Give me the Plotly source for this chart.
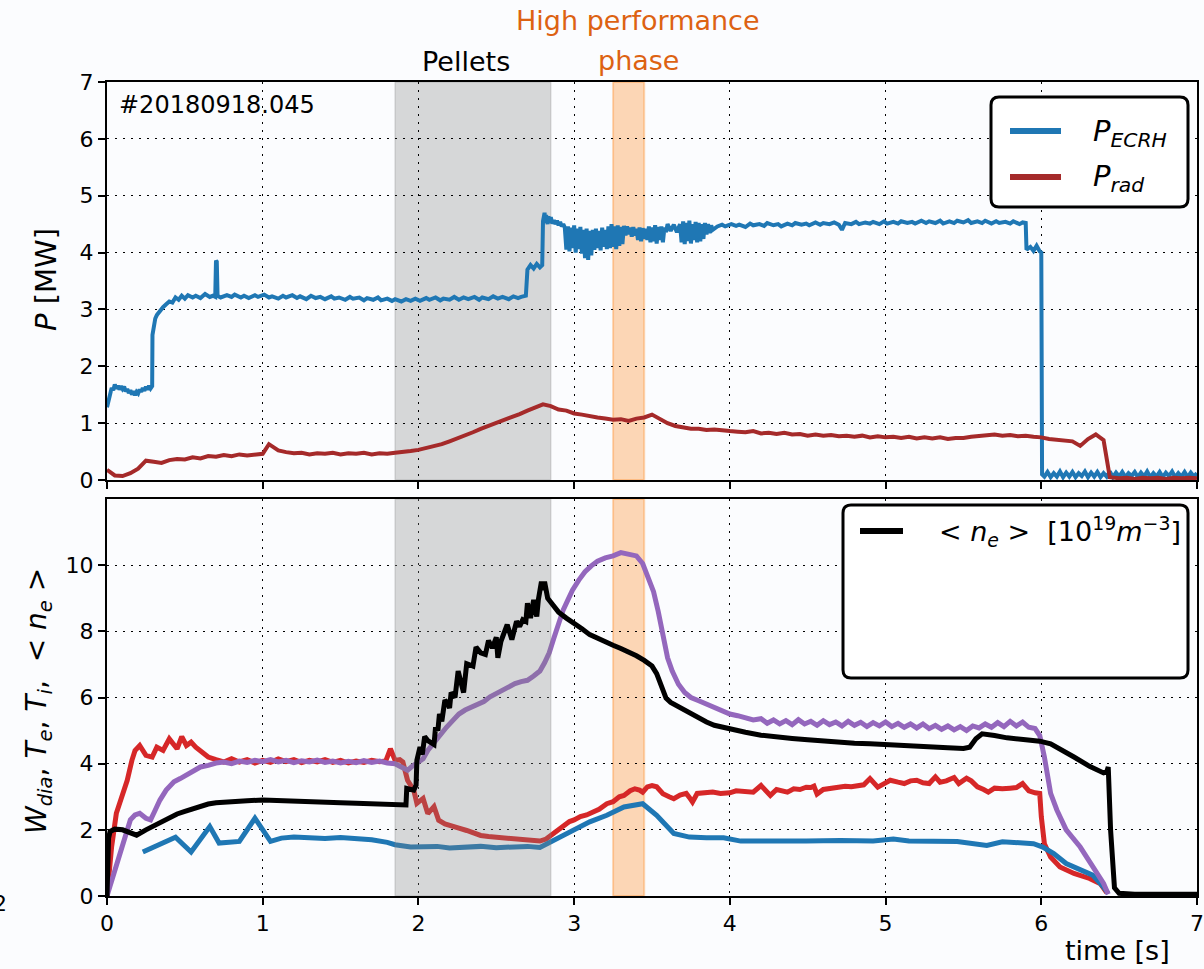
import plotly.graph_objects as go

# ---------------- data ----------------
# heating power P_ECRH [MW] : (time [s], value)
P_ECRH = [
    (0.00, 1.28), (0.01, 1.42), (0.02, 1.55), (0.03, 1.62), (0.04, 1.58), (0.05, 1.68), (0.06, 1.61),
    (0.07, 1.66), (0.08, 1.59), (0.09, 1.65), (0.10, 1.60), (0.11, 1.64), (0.12, 1.56), (0.13, 1.60),
    (0.14, 1.53), (0.15, 1.58), (0.16, 1.50), (0.17, 1.56), (0.18, 1.49), (0.19, 1.55), (0.20, 1.52),
    (0.21, 1.59), (0.22, 1.55), (0.23, 1.62), (0.24, 1.57), (0.25, 1.64), (0.26, 1.59), (0.27, 1.66),
    (0.28, 1.61), (0.29, 1.65), (0.292, 2.55), (0.30, 2.74), (0.31, 2.84), (0.32, 2.90), (0.34, 2.98),
    (0.36, 3.04), (0.38, 3.09), (0.40, 3.14), (0.42, 3.12), (0.44, 3.21), (0.46, 3.17), (0.48, 3.24),
    (0.50, 3.19), (0.52, 3.25), (0.55, 3.21), (0.57, 3.24), (0.60, 3.20), (0.63, 3.27), (0.66, 3.22),
    (0.68, 3.24), (0.695, 3.22), (0.70, 3.86), (0.705, 3.84), (0.71, 3.24), (0.73, 3.21), (0.77, 3.25),
    (0.80, 3.22), (0.82, 3.26), (0.86, 3.21), (0.88, 3.24), (0.91, 3.20), (0.95, 3.25), (0.97, 3.22),
    (1.01, 3.26), (1.04, 3.21), (1.06, 3.23), (1.10, 3.19), (1.13, 3.24), (1.15, 3.21), (1.19, 3.25),
    (1.22, 3.20), (1.24, 3.23), (1.28, 3.18), (1.31, 3.24), (1.34, 3.20), (1.37, 3.22), (1.40, 3.18),
    (1.44, 3.23), (1.46, 3.19), (1.49, 3.21), (1.53, 3.17), (1.56, 3.22), (1.58, 3.19), (1.62, 3.21),
    (1.65, 3.16), (1.67, 3.20), (1.71, 3.17), (1.74, 3.21), (1.76, 3.16), (1.80, 3.19), (1.83, 3.15),
    (1.85, 3.18), (1.89, 3.14), (1.92, 3.18), (1.95, 3.15), (1.98, 3.19), (2.01, 3.15), (2.05, 3.20),
    (2.07, 3.17), (2.11, 3.21), (2.14, 3.16), (2.16, 3.19), (2.20, 3.17), (2.23, 3.22), (2.26, 3.17),
    (2.29, 3.21), (2.32, 3.18), (2.36, 3.22), (2.39, 3.17), (2.41, 3.21), (2.45, 3.18), (2.48, 3.23),
    (2.51, 3.19), (2.54, 3.22), (2.58, 3.18), (2.61, 3.23), (2.64, 3.20), (2.66, 3.22), (2.69, 3.24),
    (2.70, 3.70), (2.72, 3.78), (2.74, 3.72), (2.76, 3.80), (2.78, 3.74), (2.795, 3.78), (2.80, 4.55),
    (2.81, 4.70), (2.815, 4.52), (2.82, 4.66), (2.83, 4.50), (2.835, 4.64), (2.84, 4.53), (2.85, 4.62),
    (2.86, 4.51), (2.87, 4.57), (2.88, 4.50), (2.89, 4.56), (2.90, 4.48), (2.91, 4.54), (2.92, 4.46),
    (2.93, 4.50), (2.94, 4.44),
    (2.95, 4.05), (2.96, 4.46), (2.97, 4.02), (2.98, 4.44), (2.99, 4.08), (3.00, 4.48), (3.01, 4.00),
    (3.02, 4.42), (3.03, 4.06), (3.04, 4.45), (3.05, 3.98), (3.06, 4.40), (3.07, 3.90), (3.08, 4.42),
    (3.09, 3.87), (3.10, 4.38), (3.11, 3.95), (3.12, 4.40), (3.13, 4.05), (3.14, 4.42), (3.15, 4.08),
    (3.16, 4.38), (3.17, 4.04), (3.18, 4.44), (3.19, 4.10), (3.20, 4.40), (3.21, 4.06), (3.22, 4.46),
    (3.23, 4.08), (3.24, 4.50), (3.25, 4.10), (3.26, 4.46), (3.27, 4.06), (3.28, 4.48), (3.29, 4.12),
    (3.30, 4.45), (3.31, 4.15), (3.32, 4.47), (3.33, 4.30), (3.34, 4.46), (3.35, 4.32), (3.36, 4.44),
    (3.37, 4.28), (3.38, 4.45), (3.39, 4.30), (3.40, 4.42), (3.41, 4.22), (3.42, 4.44), (3.43, 4.20),
    (3.44, 4.43), (3.45, 4.24), (3.46, 4.42), (3.47, 4.22), (3.48, 4.46), (3.49, 4.18), (3.50, 4.44),
    (3.51, 4.20), (3.52, 4.48), (3.53, 4.16), (3.54, 4.45), (3.55, 4.22), (3.56, 4.46), (3.57, 4.18),
    (3.58, 4.44), (3.59, 4.36), (3.60, 4.50), (3.62, 4.38), (3.64, 4.49), (3.66, 4.36), (3.68, 4.50),
    (3.69, 4.18), (3.70, 4.55), (3.71, 4.15), (3.72, 4.52), (3.73, 4.20), (3.74, 4.56), (3.75, 4.16),
    (3.76, 4.50), (3.77, 4.22), (3.78, 4.54), (3.79, 4.18), (3.80, 4.52), (3.81, 4.20), (3.82, 4.50),
    (3.83, 4.24), (3.84, 4.52), (3.85, 4.32), (3.86, 4.50), (3.87, 4.34), (3.88, 4.48), (3.89, 4.40),
    (3.92, 4.46), (3.95, 4.49), (3.97, 4.46), (4.01, 4.50), (4.04, 4.47), (4.06, 4.49), (4.10, 4.45),
    (4.13, 4.51), (4.15, 4.48), (4.19, 4.50), (4.22, 4.47), (4.24, 4.52), (4.28, 4.48), (4.31, 4.50),
    (4.33, 4.46), (4.37, 4.51), (4.40, 4.48), (4.42, 4.52), (4.46, 4.49), (4.49, 4.51), (4.51, 4.48),
    (4.55, 4.53), (4.58, 4.49), (4.60, 4.52), (4.64, 4.50), (4.67, 4.53), (4.70, 4.49), (4.72, 4.40),
    (4.74, 4.52), (4.78, 4.50), (4.81, 4.54), (4.83, 4.50), (4.87, 4.53), (4.90, 4.51), (4.92, 4.54),
    (4.96, 4.50), (4.99, 4.55), (5.01, 4.51), (5.05, 4.54), (5.08, 4.51), (5.10, 4.55), (5.14, 4.52),
    (5.17, 4.54), (5.19, 4.51), (5.23, 4.56), (5.26, 4.52), (5.28, 4.55), (5.32, 4.52), (5.35, 4.56),
    (5.37, 4.51), (5.41, 4.55), (5.44, 4.52), (5.46, 4.56), (5.50, 4.53), (5.53, 4.57), (5.55, 4.52),
    (5.59, 4.55), (5.62, 4.52), (5.64, 4.56), (5.68, 4.51), (5.71, 4.55), (5.73, 4.52), (5.77, 4.54),
    (5.80, 4.51), (5.82, 4.55), (5.86, 4.50), (5.88, 4.53), (5.90, 4.52), (5.905, 4.05), (5.93, 4.10),
    (5.95, 4.03), (5.97, 4.12), (5.99, 4.02), (6.00, 4.00), (6.005, 0.10), (6.02, 0.06), (6.04, 0.14),
    (6.06, 0.05), (6.08, 0.12), (6.10, 0.06), (6.12, 0.15), (6.14, 0.05), (6.16, 0.13), (6.18, 0.06),
    (6.20, 0.14), (6.22, 0.05), (6.24, 0.12), (6.26, 0.07), (6.28, 0.15), (6.30, 0.05), (6.32, 0.13),
    (6.34, 0.06), (6.36, 0.14), (6.38, 0.05), (6.40, 0.12), (6.42, 0.06), (6.44, 0.15), (6.46, 0.05),
    (6.48, 0.13), (6.50, 0.06), (6.52, 0.14), (6.54, 0.05), (6.56, 0.12), (6.58, 0.07), (6.60, 0.14),
    (6.62, 0.05), (6.64, 0.13), (6.66, 0.06), (6.68, 0.15), (6.70, 0.05), (6.72, 0.12), (6.74, 0.06),
    (6.76, 0.14), (6.78, 0.05), (6.80, 0.13), (6.82, 0.07), (6.84, 0.15), (6.86, 0.05), (6.88, 0.12),
    (6.90, 0.06), (6.92, 0.14), (6.94, 0.05), (6.96, 0.13), (6.98, 0.06), (7.00, 0.12),
]

# radiated power P_rad [MW]
P_RAD = [
    (0.00, 0.18), (0.05, 0.08), (0.10, 0.07), (0.15, 0.12), (0.20, 0.20), (0.25, 0.34), (0.30, 0.32),
    (0.35, 0.30), (0.40, 0.35), (0.45, 0.37), (0.50, 0.36), (0.55, 0.40), (0.60, 0.38), (0.65, 0.42),
    (0.70, 0.41), (0.75, 0.44), (0.80, 0.42), (0.85, 0.45), (0.90, 0.43), (0.95, 0.45), (1.00, 0.46),
    (1.04, 0.63), (1.10, 0.52), (1.15, 0.49), (1.20, 0.47), (1.25, 0.48), (1.30, 0.45), (1.35, 0.47),
    (1.40, 0.46), (1.45, 0.48), (1.50, 0.45), (1.55, 0.47), (1.60, 0.46), (1.65, 0.48), (1.70, 0.45),
    (1.75, 0.47), (1.80, 0.46), (1.85, 0.48), (1.90, 0.49), (1.95, 0.51), (2.00, 0.53), (2.05, 0.56),
    (2.10, 0.60), (2.15, 0.63), (2.20, 0.68), (2.25, 0.73), (2.30, 0.78), (2.35, 0.84), (2.40, 0.90),
    (2.45, 0.95), (2.50, 1.00), (2.55, 1.06), (2.60, 1.10), (2.65, 1.16), (2.70, 1.22), (2.75, 1.27),
    (2.80, 1.33), (2.85, 1.30), (2.90, 1.24), (2.95, 1.22), (3.00, 1.17), (3.05, 1.15), (3.10, 1.12),
    (3.15, 1.10), (3.20, 1.08), (3.25, 1.06), (3.30, 1.07), (3.35, 1.04), (3.40, 1.08), (3.45, 1.10),
    (3.50, 1.15), (3.55, 1.08), (3.60, 1.00), (3.65, 0.95), (3.70, 0.92), (3.75, 0.90), (3.80, 0.90),
    (3.85, 0.88), (3.90, 0.89), (3.95, 0.87), (4.00, 0.86), (4.05, 0.85), (4.10, 0.84), (4.15, 0.86),
    (4.20, 0.82), (4.25, 0.83), (4.30, 0.81), (4.35, 0.83), (4.40, 0.80), (4.45, 0.81), (4.50, 0.78),
    (4.55, 0.80), (4.60, 0.78), (4.65, 0.79), (4.70, 0.77), (4.75, 0.78), (4.80, 0.76), (4.85, 0.78),
    (4.90, 0.75), (4.95, 0.77), (5.00, 0.75), (5.05, 0.76), (5.10, 0.74), (5.15, 0.76), (5.20, 0.73),
    (5.25, 0.75), (5.30, 0.73), (5.35, 0.75), (5.40, 0.72), (5.45, 0.74), (5.50, 0.74), (5.55, 0.76),
    (5.60, 0.77), (5.65, 0.79), (5.70, 0.80), (5.75, 0.78), (5.80, 0.79), (5.85, 0.77), (5.90, 0.78),
    (5.95, 0.76), (6.00, 0.75), (6.05, 0.72), (6.10, 0.71), (6.15, 0.69), (6.20, 0.68), (6.25, 0.60),
    (6.30, 0.72), (6.35, 0.80), (6.40, 0.70), (6.44, 0.05), (6.50, 0.03), (6.55, 0.04), (6.60, 0.02),
    (6.65, 0.04), (6.70, 0.03), (6.75, 0.04), (6.80, 0.02), (6.85, 0.04), (6.90, 0.03), (6.95, 0.04),
    (7.00, 0.03),
]

# diamagnetic energy (purple)
W_DIA = [
    (0.00, 0.00), (0.05, 0.80), (0.10, 1.60), (0.15, 2.30), (0.18, 2.45), (0.21, 2.50), (0.25, 2.35),
    (0.28, 2.30), (0.31, 2.60), (0.34, 2.90), (0.38, 3.20), (0.43, 3.45), (0.47, 3.55), (0.51, 3.65),
    (0.55, 3.75), (0.60, 3.90), (0.65, 3.95), (0.70, 4.02), (0.75, 4.05), (0.80, 4.00), (0.85, 4.08),
    (0.90, 4.04), (0.95, 4.10), (1.00, 4.06), (1.05, 4.12), (1.10, 4.05), (1.15, 4.10), (1.20, 4.03),
    (1.25, 4.09), (1.30, 4.05), (1.35, 4.11), (1.40, 4.04), (1.45, 4.08), (1.50, 4.02), (1.55, 4.07),
    (1.60, 4.03), (1.65, 4.09), (1.70, 4.04), (1.75, 4.08), (1.80, 4.02), (1.85, 4.00), (1.90, 3.90),
    (1.93, 3.80), (1.96, 3.92), (2.00, 4.05), (2.03, 4.15), (2.06, 4.40), (2.10, 4.65), (2.14, 4.85),
    (2.18, 5.10), (2.22, 5.30), (2.26, 5.50), (2.30, 5.62), (2.34, 5.70), (2.38, 5.82), (2.42, 5.88),
    (2.46, 6.02), (2.50, 6.12), (2.54, 6.22), (2.58, 6.35), (2.62, 6.42), (2.66, 6.48), (2.70, 6.52),
    (2.74, 6.65), (2.78, 6.80), (2.81, 7.05), (2.84, 7.35), (2.87, 7.80), (2.90, 8.25), (2.93, 8.65),
    (2.96, 8.95), (2.99, 9.25), (3.03, 9.55), (3.07, 9.80), (3.11, 9.98), (3.15, 10.12), (3.20, 10.22),
    (3.25, 10.28), (3.30, 10.38), (3.35, 10.32), (3.40, 10.28), (3.44, 10.05), (3.48, 9.60), (3.51, 9.20),
    (3.54, 8.60), (3.57, 7.85), (3.60, 7.20), (3.63, 6.80), (3.67, 6.40), (3.71, 6.15), (3.75, 6.00),
    (3.80, 5.90), (3.85, 5.80), (3.90, 5.72), (3.95, 5.62), (4.00, 5.50), (4.05, 5.45), (4.10, 5.38),
    (4.15, 5.32), (4.20, 5.36), (4.24, 5.22), (4.28, 5.32), (4.32, 5.20), (4.36, 5.30), (4.40, 5.18),
    (4.44, 5.33), (4.48, 5.20), (4.52, 5.28), (4.56, 5.16), (4.60, 5.30), (4.64, 5.18), (4.68, 5.26),
    (4.72, 5.14), (4.76, 5.28), (4.80, 5.16), (4.84, 5.25), (4.88, 5.12), (4.92, 5.24), (4.96, 5.14),
    (5.00, 5.26), (5.04, 5.12), (5.08, 5.22), (5.12, 5.10), (5.16, 5.20), (5.20, 5.08), (5.24, 5.20),
    (5.28, 5.06), (5.32, 5.16), (5.36, 5.04), (5.40, 5.14), (5.44, 5.02), (5.48, 5.12), (5.52, 5.00),
    (5.56, 5.14), (5.60, 5.08), (5.64, 5.20), (5.68, 5.10), (5.72, 5.24), (5.76, 5.12), (5.80, 5.28),
    (5.84, 5.14), (5.88, 5.26), (5.92, 5.10), (5.96, 5.06), (5.99, 4.85), (6.02, 4.20), (6.06, 3.10),
    (6.10, 2.60), (6.16, 2.00), (6.25, 1.48), (6.33, 0.90), (6.40, 0.38), (6.43, 0.05),
]

# electron temperature (red)
T_E = [
    (0.00, 0.00), (0.03, 1.50), (0.06, 2.50), (0.10, 3.10), (0.13, 3.50), (0.16, 4.10), (0.18, 4.40),
    (0.21, 4.55), (0.25, 4.25), (0.29, 4.20), (0.32, 4.50), (0.36, 4.40), (0.40, 4.75), (0.45, 4.45),
    (0.48, 4.82), (0.51, 4.55), (0.54, 4.65), (0.57, 4.50), (0.60, 4.40), (0.65, 4.20), (0.70, 4.12),
    (0.75, 4.05), (0.80, 4.15), (0.85, 4.05), (0.90, 4.12), (0.95, 4.02), (1.00, 4.10), (1.05, 4.04),
    (1.10, 4.14), (1.15, 4.06), (1.20, 4.12), (1.25, 4.03), (1.30, 4.10), (1.35, 4.05), (1.40, 4.12),
    (1.45, 4.04), (1.50, 4.10), (1.55, 4.02), (1.60, 4.08), (1.65, 4.04), (1.70, 4.10), (1.75, 4.06),
    (1.79, 4.08), (1.82, 4.45), (1.85, 4.10), (1.88, 4.12), (1.90, 4.05), (1.93, 3.50), (1.97, 3.20),
    (1.99, 2.80), (2.03, 2.95), (2.06, 2.49), (2.10, 2.70), (2.13, 2.29), (2.17, 2.18), (2.22, 2.09),
    (2.26, 2.05), (2.31, 1.98), (2.36, 1.90), (2.40, 1.83), (2.45, 1.80), (2.50, 1.78), (2.55, 1.76),
    (2.61, 1.73), (2.66, 1.72), (2.72, 1.70), (2.78, 1.66), (2.82, 1.72), (2.85, 1.83), (2.89, 1.95),
    (2.93, 2.10), (2.97, 2.25), (3.00, 2.30), (3.04, 2.40), (3.08, 2.45), (3.12, 2.55), (3.16, 2.62),
    (3.21, 2.79), (3.25, 2.85), (3.29, 3.00), (3.32, 3.04), (3.36, 3.18), (3.39, 3.24), (3.42, 3.20),
    (3.44, 3.14), (3.47, 3.30), (3.50, 3.34), (3.53, 3.30), (3.57, 3.09), (3.61, 3.00), (3.64, 2.94),
    (3.68, 3.05), (3.72, 3.10), (3.74, 2.98), (3.76, 2.84), (3.79, 3.10), (3.84, 3.12), (3.89, 3.14),
    (3.94, 3.10), (4.00, 3.12), (4.04, 3.18), (4.09, 3.15), (4.15, 3.14), (4.20, 3.34), (4.23, 3.20),
    (4.26, 3.04), (4.30, 3.22), (4.33, 3.20), (4.37, 3.14), (4.41, 3.24), (4.45, 3.22), (4.49, 3.29),
    (4.52, 3.28), (4.54, 3.32), (4.56, 3.08), (4.60, 3.22), (4.65, 3.26), (4.70, 3.27), (4.74, 3.32),
    (4.78, 3.30), (4.82, 3.34), (4.86, 3.36), (4.90, 3.55), (4.95, 3.29), (5.00, 3.42), (5.03, 3.50),
    (5.08, 3.44), (5.12, 3.40), (5.16, 3.48), (5.20, 3.50), (5.24, 3.42), (5.28, 3.40), (5.32, 3.60),
    (5.35, 3.44), (5.39, 3.48), (5.44, 3.58), (5.47, 3.40), (5.52, 3.56), (5.55, 3.48), (5.59, 3.30),
    (5.63, 3.22), (5.66, 3.14), (5.70, 3.26), (5.75, 3.24), (5.80, 3.26), (5.84, 3.28), (5.88, 3.40),
    (5.92, 3.18), (5.96, 3.12), (5.99, 3.10), (6.00, 2.40), (6.02, 1.58), (6.06, 1.18), (6.12, 0.88),
    (6.21, 0.68), (6.31, 0.53), (6.38, 0.37), (6.42, 0.10),
]

# ion temperature (blue)
T_I = [
    (0.23, 1.33), (0.32, 1.53), (0.44, 1.78), (0.54, 1.33), (0.60, 1.73), (0.66, 2.10), (0.72, 1.60),
    (0.80, 1.62), (0.85, 1.65), (0.95, 2.35), (1.05, 1.65), (1.12, 1.75), (1.20, 1.78), (1.30, 1.76),
    (1.40, 1.74), (1.50, 1.77), (1.60, 1.75), (1.70, 1.70), (1.80, 1.62), (1.85, 1.55), (1.95, 1.48),
    (2.05, 1.47), (2.12, 1.50), (2.20, 1.45), (2.30, 1.47), (2.40, 1.50), (2.50, 1.46), (2.60, 1.48),
    (2.70, 1.50), (2.78, 1.47), (2.89, 1.73), (2.99, 1.98), (3.10, 2.24), (3.21, 2.44), (3.32, 2.69),
    (3.44, 2.79), (3.53, 2.44), (3.64, 1.89), (3.74, 1.78), (3.85, 1.76), (3.96, 1.76), (4.07, 1.66),
    (4.28, 1.65), (4.49, 1.66), (4.71, 1.68), (4.92, 1.66), (5.05, 1.72), (5.15, 1.66), (5.46, 1.65),
    (5.65, 1.53), (5.75, 1.64), (5.95, 1.58), (6.01, 1.48), (6.08, 1.28), (6.16, 0.98), (6.33, 0.63),
    (6.40, 0.27), (6.43, 0.07),
]

# line-averaged density <n_e> [1e19 m^-3] (black)
N_E = [
    (0.00, 0.00), (0.005, 1.20), (0.01, 1.75), (0.02, 1.95), (0.05, 2.02), (0.10, 2.00), (0.15, 1.92),
    (0.19, 1.84), (0.25, 2.00), (0.30, 2.12), (0.35, 2.25), (0.40, 2.38), (0.45, 2.48), (0.50, 2.56),
    (0.55, 2.64), (0.60, 2.72), (0.65, 2.78), (0.70, 2.82), (0.80, 2.86), (0.90, 2.88), (1.00, 2.90),
    (1.10, 2.89), (1.20, 2.88), (1.30, 2.86), (1.40, 2.84), (1.50, 2.82), (1.60, 2.80), (1.70, 2.78),
    (1.80, 2.76), (1.92, 2.75), (1.925, 3.25), (1.97, 3.20), (1.985, 3.35), (1.99, 4.10), (2.01, 4.50),
    (2.025, 4.28), (2.04, 4.82), (2.06, 4.70), (2.10, 4.58), (2.11, 5.10), (2.125, 5.00), (2.135, 5.50),
    (2.15, 5.28), (2.17, 5.92), (2.19, 5.80), (2.20, 5.68), (2.21, 6.15), (2.235, 6.00), (2.255, 6.80),
    (2.29, 6.15), (2.31, 7.02), (2.35, 6.95), (2.37, 7.52), (2.40, 7.35), (2.43, 7.30), (2.45, 7.72),
    (2.475, 7.50), (2.50, 7.82), (2.51, 7.20), (2.53, 7.70), (2.57, 8.20), (2.60, 7.75), (2.63, 8.30),
    (2.65, 8.15), (2.67, 8.35), (2.69, 8.30), (2.70, 8.85), (2.72, 8.40), (2.74, 8.95), (2.76, 8.45),
    (2.77, 8.95), (2.79, 9.50), (2.80, 9.25), (2.81, 9.50), (2.83, 9.00), (2.87, 8.75), (2.90, 8.58),
    (2.95, 8.40), (3.00, 8.25), (3.05, 8.08), (3.10, 7.90), (3.15, 7.78), (3.20, 7.68), (3.25, 7.58),
    (3.30, 7.48), (3.35, 7.38), (3.40, 7.26), (3.45, 7.12), (3.50, 6.95), (3.53, 6.72), (3.56, 6.30),
    (3.59, 5.98), (3.62, 5.85), (3.68, 5.70), (3.74, 5.52), (3.80, 5.36), (3.85, 5.26), (3.90, 5.16),
    (3.95, 5.10), (4.00, 5.05), (4.10, 4.95), (4.20, 4.86), (4.30, 4.80), (4.40, 4.76), (4.50, 4.72),
    (4.60, 4.68), (4.70, 4.65), (4.80, 4.62), (4.90, 4.60), (5.00, 4.57), (5.10, 4.55), (5.20, 4.52),
    (5.30, 4.50), (5.40, 4.48), (5.50, 4.46), (5.54, 4.50), (5.58, 4.75), (5.62, 4.90), (5.70, 4.85),
    (5.78, 4.78), (5.90, 4.72), (5.99, 4.68), (6.06, 4.60), (6.14, 4.40), (6.21, 4.20), (6.31, 3.92),
    (6.40, 3.72), (6.42, 3.75), (6.43, 3.90), (6.445, 2.00), (6.46, 0.60), (6.47, 0.25), (6.50, 0.08),
    (6.60, 0.05), (7.00, 0.05),
]

PELLET_PHASE = (1.85, 2.85)
HIGH_PERF_PHASE = (3.25, 3.45)
X_TICKS = [0, 1, 2, 3, 4, 5, 6, 7]
P_TICKS = [0, 1, 2, 3, 4, 5, 6, 7]
LOWER_TICKS = [0, 2, 4, 6, 8, 10]
LOWER_RANGE = (0, 12)
SHOT_ID = "#20180918.045"

# ---------------- figure geometry (pixels) ----------------
W, H = 1204, 969
L, R, T, B = 107, 7, 82, 73
PW, PH = W - L - R, H - T - B


def xp(px):
    return (px - L) / PW


def yp(py):
    return (H - B - py) / PH


def split(pairs):
    return [p[0] for p in pairs], [p[1] for p in pairs]


FONT = "DejaVu Sans"
C_BLUE, C_BROWN, C_RED, C_PURPLE = "#1f77b4", "#a52a2a", "#d62728", "#9467bd"
SPAN_GREY = "rgba(128,128,128,0.3)"
TOP_W, BOTTOM_W = 4, 5

fig = go.Figure()

# upper panel: powers
t, v = split(P_ECRH)
fig.add_trace(go.Scatter(x=t, y=v, xaxis="x2", yaxis="y2", mode="lines",
                         line=dict(color=C_BLUE, width=TOP_W)))
t, v = split(P_RAD)
fig.add_trace(go.Scatter(x=t, y=v, xaxis="x2", yaxis="y2", mode="lines",
                         line=dict(color=C_BROWN, width=TOP_W)))

# lower panel: temperatures and stored energy, then pellet shading, then density on top
for series, col in [(T_E, C_RED), (T_I, C_BLUE), (W_DIA, C_PURPLE)]:
    t, v = split(series)
    fig.add_trace(go.Scatter(x=t, y=v, xaxis="x", yaxis="y", mode="lines",
                             line=dict(color=col, width=BOTTOM_W)))

p0, p1 = PELLET_PHASE
fig.add_trace(go.Scatter(x=[p0, p1, p1, p0, p0],
                         y=[LOWER_RANGE[0], LOWER_RANGE[0], LOWER_RANGE[1], LOWER_RANGE[1], LOWER_RANGE[0]],
                         xaxis="x", yaxis="y", mode="lines", fill="toself", fillcolor=SPAN_GREY,
                         line=dict(color="rgba(128,128,128,0.25)", width=1.5), hoverinfo="skip"))

t, v = split(N_E)
fig.add_trace(go.Scatter(x=t, y=v, xaxis="x", yaxis="y", mode="lines",
                         line=dict(color="black", width=BOTTOM_W)))

grid = dict(showgrid=True, gridcolor="black", gridwidth=1, griddash="2px,6px", zeroline=False,
            showline=True, linecolor="black", linewidth=2, mirror=True, automargin=False,
            ticks="outside", ticklen=7, tickwidth=1.5, tickcolor="black",
            tickfont=dict(family=FONT, size=22, color="black"))

fig.update_layout(
    width=W, height=H,
    margin=dict(l=L, r=R, t=T, b=B),
    paper_bgcolor="#fbfcfe", plot_bgcolor="rgba(0,0,0,0)",
    showlegend=False,
    font=dict(family=FONT, color="black"),
    xaxis=dict(domain=[0, 1], range=[0, 7], anchor="y", tickvals=X_TICKS, **grid),
    yaxis=dict(domain=[0, yp(499)], range=list(LOWER_RANGE), anchor="x", tickvals=LOWER_TICKS, **grid),
    xaxis2=dict(domain=[0, 1], range=[0, 7], anchor="y2", tickvals=X_TICKS, matches="x",
                showticklabels=False, **grid),
    yaxis2=dict(domain=[yp(480), 1], range=[0, 7], anchor="x2", tickvals=P_TICKS, **grid),
)

shapes = []
# shaded phases
for xr, yr in [("x", "y domain"), ("x2", "y2 domain")]:
    shapes.append(dict(type="rect", xref=xr, yref=yr, x0=HIGH_PERF_PHASE[0], x1=HIGH_PERF_PHASE[1],
                       y0=0, y1=1, fillcolor="rgba(255,127,14,0.3)",
                       line=dict(color="rgba(255,127,14,0.3)", width=2), layer="below"))
shapes.append(dict(type="rect", xref="x2", yref="y2 domain", x0=p0, x1=p1, y0=0, y1=1,
                   fillcolor=SPAN_GREY, line=dict(color="rgba(128,128,128,0.25)", width=1.5),
                   layer="below"))


def rounded_box(x0, y0, x1, y1, r):
    pts = [
        f"M {xp(x0 + r)},{yp(y0)}", f"L {xp(x1 - r)},{yp(y0)}", f"Q {xp(x1)},{yp(y0)} {xp(x1)},{yp(y0 + r)}",
        f"L {xp(x1)},{yp(y1 - r)}", f"Q {xp(x1)},{yp(y1)} {xp(x1 - r)},{yp(y1)}",
        f"L {xp(x0 + r)},{yp(y1)}", f"Q {xp(x0)},{yp(y1)} {xp(x0)},{yp(y1 - r)}",
        f"L {xp(x0)},{yp(y0 + r)}", f"Q {xp(x0)},{yp(y0)} {xp(x0 + r)},{yp(y0)}", "Z",
    ]
    return dict(type="path", xref="paper", yref="paper", path=" ".join(pts),
                fillcolor="white", line=dict(color="black", width=3), layer="above")


# legend boxes
shapes.append(rounded_box(991, 97, 1188, 207, 8))
shapes.append(rounded_box(843, 505, 1188, 678, 8))
for (x0, x1, y, col) in [(1010, 1061, 131, C_BLUE), (1010, 1061, 177, C_BROWN), (860, 903, 531, "black")]:
    shapes.append(dict(type="line", xref="paper", yref="paper", x0=xp(x0), x1=xp(x1), y0=yp(y), y1=yp(y),
                       line=dict(color=col, width=6), layer="above"))
fig.update_layout(shapes=shapes)


def note(text, x, y, size, color="black", xanchor="center", angle=0):
    fig.add_annotation(text=text, x=xp(x), y=yp(y), xref="paper", yref="paper", showarrow=False,
                       xanchor=xanchor, yanchor="middle", textangle=angle,
                       font=dict(family=FONT, size=size, color=color))


note(SHOT_ID, 117, 105, 24, xanchor="left")
note("Pellets", 466, 62, 27)
note("High performance", 638, 20, 27, color="#dd6212")
note("phase", 638, 60, 27, color="#dd6212")
note("<i>P</i><sub><i>ECRH</i></sub>", 1091, 133, 29, xanchor="left")
note("<i>P</i><sub><i>rad</i></sub>", 1091, 178, 29, xanchor="left")
note("&lt; <i>n</i><sub><i>e</i></sub> &gt;  [10<sup>19</sup><i>m</i><sup>\u22123</sup>]", 937, 531, 27,
     xanchor="left")
note("<i>P</i> [MW]", 46, 280, 29, angle=-90)
note("<i>W</i><sub><i>dia</i></sub>, <i>T</i><sub><i>e</i></sub>, <i>T</i><sub><i>i</i></sub>,  "
     "&lt; <i>n</i><sub><i>e</i></sub> &gt;", 38, 701, 28, angle=-90)
note("time [s]", 1117, 950, 27)
note("2", 0, 903, 22)

fig.write_html("out.html")
